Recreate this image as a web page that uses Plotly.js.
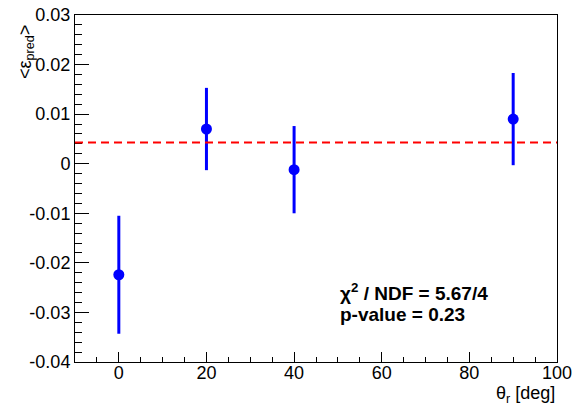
<!DOCTYPE html>
<html>
<head>
<meta charset="utf-8">
<script src="https://cdn.plot.ly/plotly-3.0.1.min.js"></script>
<style>html,body{margin:0;padding:0;background:#fff;}#chart{width:582px;height:407px;}</style>
</head>
<body>
<div id="chart"></div>
<script>
// Data
var thetaR = [0, 20, 40, 90];
var epsPred = [-0.0224, 0.0070, -0.0012, 0.0090];
var epsErr = [0.0119, 0.0083, 0.0088, 0.0093];
var fitMean = 0.0043;

var xTickVals = [0, 20, 40, 60, 80, 100];
var xTickText = ['0', '20', '40', '60', '80', '100'];
var yTickVals = [-0.04, -0.03, -0.02, -0.01, 0, 0.01, 0.02, 0.03];
var yTickText = ['-0.04', '-0.03', '-0.02', '-0.01', '0', '0.01', '0.02', '0.03'];

var xRange = [-10, 100];
var yRange = [-0.04, 0.03];

var fontFam = 'Liberation Sans, Arial, Helvetica, sans-serif';

var trace = {
  x: thetaR,
  y: epsPred,
  type: 'scatter',
  mode: 'markers',
  marker: {color: '#0000ff', size: 11},
  error_y: {type: 'data', array: epsErr, visible: true, color: '#0000ff', thickness: 3, width: 0},
  showlegend: false,
  hoverinfo: 'x+y'
};

var layout = {
  width: 582,
  height: 407,
  margin: {l: 75, r: 25, t: 15, b: 45},
  paper_bgcolor: '#ffffff',
  plot_bgcolor: '#ffffff',
  font: {family: fontFam, size: 17, color: '#000000'},
  xaxis: {
    range: xRange,
    tickmode: 'array',
    tickvals: xTickVals,
    ticktext: xTickText,
    ticks: 'inside',
    ticklen: 10,
    tickwidth: 1,
    tickcolor: '#000',
    ticklabelstandoff: -6,
    minor: {dtick: 5, tick0: 0, ticks: 'inside', ticklen: 5, tickcolor: '#000', showgrid: false},
    showline: true,
    linecolor: '#000',
    linewidth: 1,
    mirror: true,
    showgrid: false,
    zeroline: false,
    tickfont: {family: fontFam, size: 18, color: '#000'}
  },
  yaxis: {
    range: yRange,
    tickmode: 'array',
    tickvals: yTickVals,
    ticktext: yTickText,
    ticks: 'inside',
    ticklen: 14,
    tickwidth: 1,
    tickcolor: '#000',
    minor: {dtick: 0.002, tick0: 0, ticks: 'inside', ticklen: 7, tickcolor: '#000', showgrid: false},
    showline: true,
    linecolor: '#000',
    linewidth: 1,
    mirror: true,
    showgrid: false,
    zeroline: false,
    tickfont: {family: fontFam, size: 18, color: '#000'}
  },
  shapes: [{
    type: 'line', xref: 'paper', x0: 0, x1: 1, yref: 'y', y0: fitMean, y1: fitMean,
    line: {color: '#ff0000', width: 2, dash: '8px,5px'}
  }],
  annotations: [
    {xref: 'paper', yref: 'paper', x: -0.101, y: 0.978, xanchor: 'center', yanchor: 'top',
     text: '&lt;ε<sub>pred</sub>&gt;', textangle: -90, showarrow: false,
     font: {family: fontFam, size: 18, color: '#000'}},
    {xref: 'paper', yref: 'paper', x: 1.0, y: -0.095, xanchor: 'right', yanchor: 'middle',
     text: 'θ<sub>r</sub> [deg]', showarrow: false,
     font: {family: fontFam, size: 18, color: '#000'}},
    {xref: 'paper', yref: 'paper', x: 0.5456, y: 0.2017, xanchor: 'left', yanchor: 'middle',
     text: '<b>χ<sup>2</sup> / NDF = 5.67/4</b>', showarrow: false,
     font: {family: fontFam, size: 19, color: '#000'}},
    {xref: 'paper', yref: 'paper', x: 0.5456, y: 0.136, xanchor: 'left', yanchor: 'middle',
     text: '<b>p-value = 0.23</b>', showarrow: false,
     font: {family: fontFam, size: 19, color: '#000'}}
  ]
};

Plotly.newPlot('chart', [trace], layout, {displayModeBar: false, staticPlot: true});
</script>
</body>
</html>
